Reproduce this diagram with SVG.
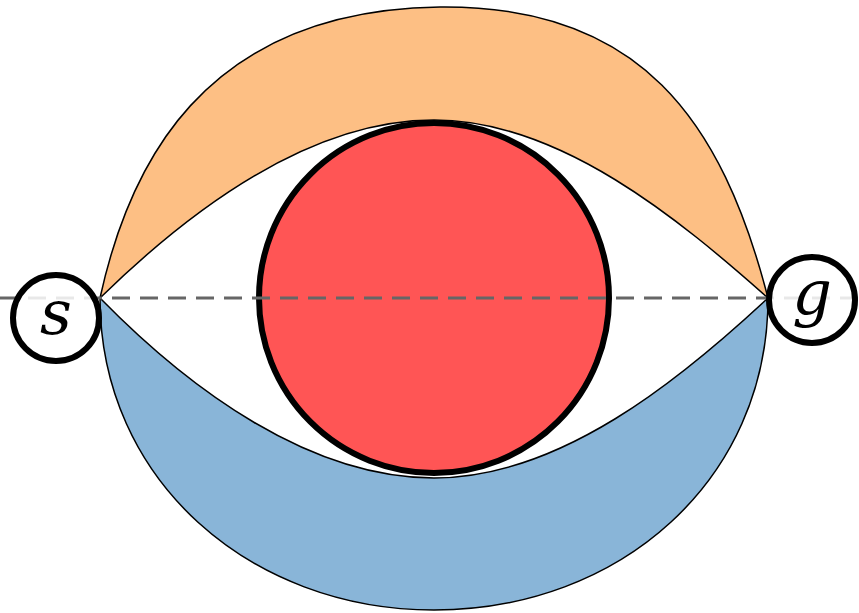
<svg xmlns="http://www.w3.org/2000/svg" width="859" height="613" viewBox="0 0 859 613">
<style>
.band{stroke:#000;stroke-width:1.5;stroke-linejoin:round}
.node{fill:#fff;fill-opacity:0.85;stroke:#000;stroke-width:6}
.lbl{font-family:"DejaVu Serif",serif;font-style:italic;font-size:62px;text-anchor:middle;fill:#000}
</style>
<rect width="859" height="613" fill="#fff"/>
<g id="regions">
<path id="upper" class="band" fill="#fdbf84" d="M100,298 C128,170 200,10 440,7 C640,5 722,120 768,298 C680,220 560,120 434,120 C310,120 190,210 100,298 Z"/>
<path id="lower" class="band" fill="#89b5d8" d="M100,298 C100,480 250,610 434,610 C620,610 768,480 768,298 C680,380 560,478 434,478 C310,478 190,390 100,298 Z"/>
</g>
<g id="obstacle">
<circle cx="434" cy="298" r="175" fill="#ff5555" stroke="#000" stroke-width="6"/>
</g>
<g id="connectors">
<line x1="0" y1="298" x2="859" y2="298" stroke="#666" stroke-width="3" stroke-dasharray="18 10"/>
</g>
<g id="node-s">
<circle class="node" cx="56" cy="318" r="43"/>
<text class="lbl" x="56" y="334">s</text>
</g>
<g id="node-g">
<circle class="node" cx="812" cy="300" r="43"/>
<text class="lbl" x="812" y="314">g</text>
</g>
</svg>
